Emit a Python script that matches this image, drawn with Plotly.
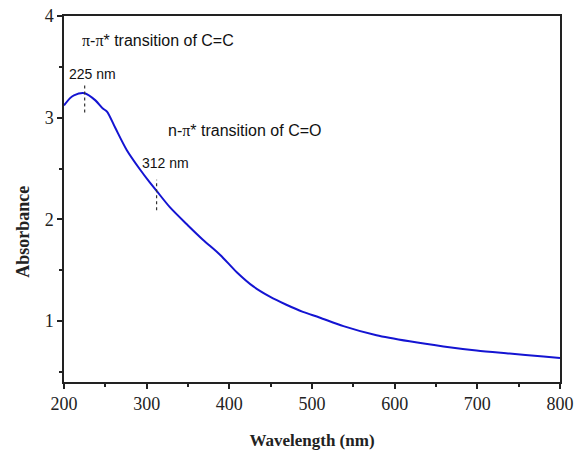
import plotly.graph_objects as go

wavelength = [200, 207, 212, 225, 238, 247, 252, 262, 276, 292, 304, 312, 328, 350, 368, 389, 409, 429, 449, 469, 489, 509, 538, 578, 618, 659, 699, 739, 780, 800]
absorbance = [3.12, 3.19, 3.22, 3.24, 3.17, 3.09, 3.06, 2.90, 2.68, 2.49, 2.36, 2.28, 2.12, 1.94, 1.80, 1.65, 1.48, 1.34, 1.24, 1.16, 1.09, 1.035, 0.95, 0.86, 0.80, 0.75, 0.71, 0.68, 0.65, 0.635]

peak_wl = [225, 312]
peak_lo = [3.05, 2.09]
peak_hi = [3.33, 2.39]
peak_labels = ["225 nm", "312 nm"]
peak_label_x = [234, 323]
peak_label_y = [3.43, 2.55]

trans_labels = ["π-π* transition of C=C", "n-π* transition of C=O"]
trans_x = [219, 323]
trans_y = [3.76, 2.87]

x_ticks = [200, 300, 400, 500, 600, 700, 800]
y_ticks = [1, 2, 3, 4]

fig = go.Figure()
fig.add_trace(go.Scatter(x=wavelength, y=absorbance, mode="lines",
                         line=dict(color="#1414d2", width=2, shape="spline", smoothing=0.8),
                         showlegend=False, hoverinfo="skip"))

for wl, lo, hi in zip(peak_wl, peak_lo, peak_hi):
    fig.add_shape(type="line", x0=wl, x1=wl, y0=lo, y1=hi, xref="x", yref="y",
                  line=dict(color="#333333", width=1.2, dash="3px,3px"))

for t, x, y in zip(peak_labels, peak_label_x, peak_label_y):
    fig.add_annotation(x=x, y=y, text=t, showarrow=False, xanchor="center", yanchor="middle",
                       font=dict(family="Liberation Sans, Arial", size=14, color="#111111"))

def pi_html(s):
    return s.replace("π", '<span style="font-family:Liberation Serif">π</span>')

for t, x, y in zip(trans_labels, trans_x, trans_y):
    fig.add_annotation(x=x, y=y, text=pi_html(t), showarrow=False, xanchor="left", yanchor="middle",
                       font=dict(family="Liberation Sans, Arial", size=16, color="#111111"))

# y-axis title placed as in the reference (slightly below the plot centre)
fig.add_annotation(x=-0.083, y=0.41, xref="paper", yref="paper", text="<b>Absorbance</b>",
                   textangle=-90, showarrow=False, xanchor="center", yanchor="middle",
                   font=dict(family="Liberation Serif, Times New Roman", size=18, color="#222222"))

axis_common = dict(showline=True, linecolor="#222222", linewidth=1.5, mirror=True,
                   ticks="outside", ticklen=5, tickwidth=1.5, tickcolor="#222222",
                   showgrid=False, zeroline=False, automargin=False,
                   tickfont=dict(family="Liberation Serif, Times New Roman", size=18, color="#222222"))

fig.update_xaxes(range=[200, 800], tickvals=x_ticks,
                 minor=dict(ticks="outside", ticklen=3, tickwidth=1.5, tickcolor="#222222", dtick=50, tick0=200),
                 title=dict(text="<b>Wavelength (nm)</b>", standoff=25,
                            font=dict(family="Liberation Serif, Times New Roman", size=17, color="#222222")),
                 **axis_common)
fig.update_yaxes(range=[0.4, 4], tickvals=y_ticks,
                 minor=dict(ticks="outside", ticklen=3, tickwidth=1.5, tickcolor="#222222", dtick=0.5, tick0=0),
                 **axis_common)

fig.update_layout(width=577, height=450, margin=dict(l=64, r=17, t=16, b=68),
                  plot_bgcolor="white", paper_bgcolor="white")

fig.write_html("out.html")
